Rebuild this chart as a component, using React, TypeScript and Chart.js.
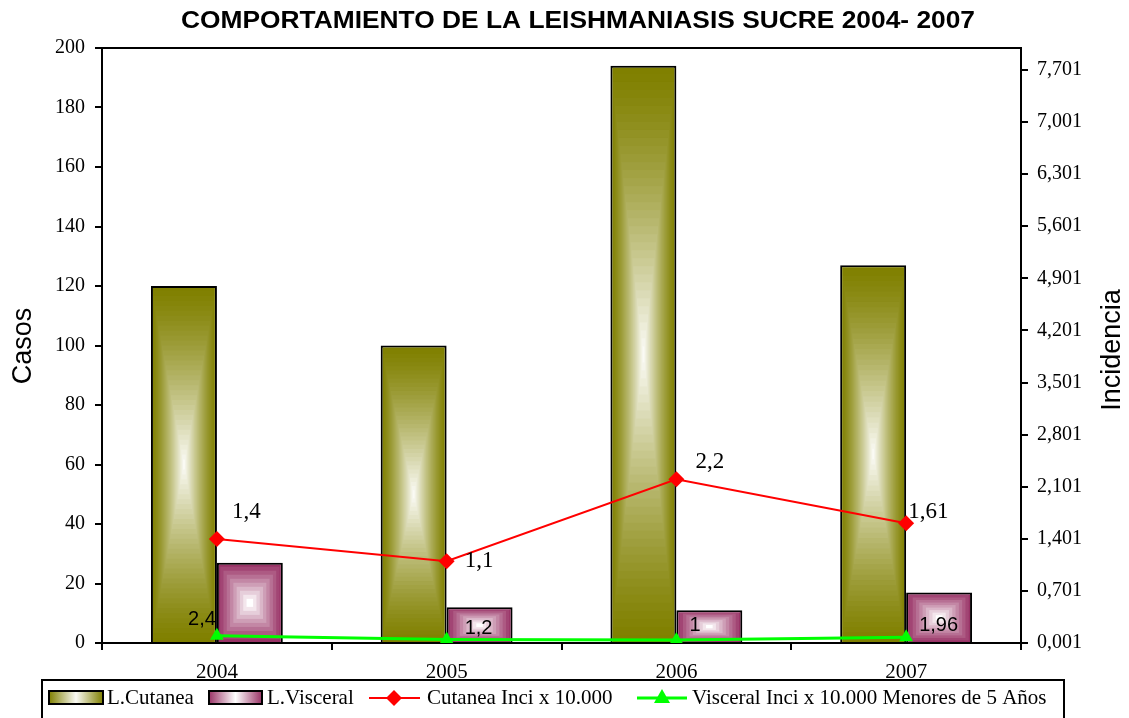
import React, { useEffect, useRef } from "react";
import { Chart, registerables } from "chart.js";

Chart.register(...registerables);

const categories = ["2004", "2005", "2006", "2007"];
const cutaneaCasos = [120, 100, 194, 127];
const visceralCasos = [27, 12, 11, 17];
const cutaneaInci = [1.4, 1.1, 2.2, 1.61];
const visceralInci = [2.4, 1.2, 1, 1.96];
const cutaneaInciLabels = ["1,4", "1,1", "2,2", "1,61"];
const visceralInciLabels = ["2,4", "1,2", "1", "1,96"];
const rightTicks = [0.001, 0.701, 1.401, 2.101, 2.801, 3.501, 4.201, 4.901, 5.601, 6.301, 7.001, 7.701];

const TITLE = "COMPORTAMIENTO DE LA LEISHMANIASIS SUCRE 2004- 2007";
const legendNames = ["L.Cutanea", "L.Visceral", "Cutanea Inci x 10.000", "Visceral Inci x 10.000 Menores de 5 Años"];

// styling / layout config (not data)
const CAT_PCT = 0.574;
const OLIVE: [number, number, number] = [128, 128, 0];
const OLIVE_C: [number, number, number] = [250, 250, 244];
const PLUM: [number, number, number] = [153, 51, 102];
const PLUM_C: [number, number, number] = [255, 255, 255];
const cutLabelOffsets: [number, number, CanvasTextAlign][] = [[15, -27, "left"], [18, 0, "left"], [19, -17, "left"], [2, -11, "left"]];
const visLabelOffsets: [number, number, CanvasTextAlign][] = [[-1, -16, "right"], [18, -11, "left"], [13, -15, "left"], [13, -12, "left"]];

const SERIF = "'Liberation Serif', 'Times New Roman', serif";
const SANS = "'Liberation Sans', Arial, sans-serif";

function mix(a: number[], b: number[], f: number) {
  const r = Math.round(a[0] + (b[0] - a[0]) * f);
  const g = Math.round(a[1] + (b[1] - a[1]) * f);
  const bb = Math.round(a[2] + (b[2] - a[2]) * f);
  return `rgb(${r},${g},${bb})`;
}

function boxPattern(chart: any, l: number, t: number, r: number, b: number, edge: number[], center: number[], steps: number, pw: number) {
  const c = document.createElement("canvas");
  c.width = chart.width;
  c.height = chart.height;
  const g = c.getContext("2d")!;
  const w = r - l;
  const h = b - t;
  for (let k = 0; k < steps; k++) {
    const f = k / steps;
    const cf = Math.pow(k / (steps - 1), pw);
    g.fillStyle = mix(edge, center, cf);
    g.fillRect(l + (f * w) / 2, t + (f * h) / 2, w * (1 - f), h * (1 - f));
  }
  return chart.ctx.createPattern(c, "no-repeat");
}

function barFill(barIdx: number, values: number[], edge: number[], center: number[], steps: number, pw: number) {
  return (ctx: any) => {
    const fallback = mix(edge, edge, 0);
    if (ctx.type !== "data") return fallback;
    const chart = ctx.chart;
    const xs = chart.scales.x;
    const ys = chart.scales.y;
    if (!xs || !ys || !chart.chartArea) return fallback;
    const i = ctx.dataIndex;
    const cx = xs.getPixelForValue(i);
    const catW = xs.width / categories.length;
    const bw = (catW * CAT_PCT) / 2;
    const left = barIdx === 0 ? cx - bw : cx;
    const right = left + bw;
    const top = ys.getPixelForValue(values[i]);
    const base = ys.getPixelForValue(0);
    return boxPattern(chart, left, top, right, base, edge, center, steps, pw) || fallback;
  };
}

function drawDiamond(ctx: CanvasRenderingContext2D, x: number, y: number, r: number) {
  ctx.beginPath();
  ctx.moveTo(x, y - r);
  ctx.lineTo(x + r, y);
  ctx.lineTo(x, y + r);
  ctx.lineTo(x - r, y);
  ctx.closePath();
  ctx.fill();
}

function drawTriangle(ctx: CanvasRenderingContext2D, x: number, y: number, r: number) {
  ctx.beginPath();
  ctx.moveTo(x, y - r);
  ctx.lineTo(x + r, y + r * 0.75);
  ctx.lineTo(x - r, y + r * 0.75);
  ctx.closePath();
  ctx.fill();
}

const decorPlugin = {
  id: "decor",
  afterDraw(chart: any) {
    const ctx: CanvasRenderingContext2D = chart.ctx;
    const ca = chart.chartArea;
    ctx.save();
    // top border of plot area
    ctx.strokeStyle = "#000";
    ctx.lineWidth = 2;
    ctx.beginPath();
    ctx.moveTo(ca.left, ca.top);
    ctx.lineTo(ca.right, ca.top);
    ctx.stroke();

    // data labels
    const lineSets = [
      { ds: 2, labels: cutaneaInciLabels, offs: cutLabelOffsets, font: `23px ${SERIF}` },
      { ds: 3, labels: visceralInciLabels, offs: visLabelOffsets, font: `20px ${SANS}` },
    ];
    ctx.fillStyle = "#000";
    ctx.textBaseline = "middle";
    for (const s of lineSets) {
      const meta = chart.getDatasetMeta(s.ds);
      ctx.font = s.font;
      meta.data.forEach((pt: any, i: number) => {
        const [dx, dy, al] = s.offs[i];
        ctx.textAlign = al;
        ctx.fillText(s.labels[i], pt.x + dx, pt.y + dy);
      });
    }

    // title (stretched horizontally like the original)
    ctx.font = `bold 23px ${SANS}`;
    ctx.textAlign = "center";
    ctx.textBaseline = "middle";
    const tw = ctx.measureText(TITLE).width;
    ctx.save();
    ctx.translate(578, 22);
    ctx.scale(794 / tw, 1);
    ctx.fillText(TITLE, 0, 0);
    ctx.restore();

    // axis titles
    ctx.font = `27px ${SANS}`;
    ctx.save();
    ctx.translate(24, 346);
    ctx.rotate(-Math.PI / 2);
    ctx.fillText("Casos", 0, 0);
    ctx.restore();
    ctx.save();
    ctx.translate(1113, 350);
    ctx.rotate(-Math.PI / 2);
    ctx.fillText("Incidencia", 0, 0);
    ctx.restore();

    // legend
    ctx.fillStyle = "#fff";
    ctx.fillRect(42, 680, 1022, 40);
    ctx.strokeStyle = "#000";
    ctx.lineWidth = 2;
    ctx.strokeRect(42, 680, 1022, 40);

    const swatch = (x0: number, x1: number, edge: number[], center: number[]) => {
      const g = ctx.createLinearGradient(x0, 0, x1, 0);
      g.addColorStop(0, mix(edge, edge, 0));
      g.addColorStop(0.5, mix(edge, center, 1));
      g.addColorStop(1, mix(edge, edge, 0));
      ctx.fillStyle = g;
      ctx.fillRect(x0, 691, x1 - x0, 13);
      ctx.strokeStyle = "#000";
      ctx.lineWidth = 2;
      ctx.strokeRect(x0, 691, x1 - x0, 13);
    };
    swatch(49, 103, OLIVE, OLIVE_C);
    swatch(209, 262, PLUM, PLUM_C);

    ctx.strokeStyle = "#ff0000";
    ctx.lineWidth = 2;
    ctx.beginPath();
    ctx.moveTo(369, 698);
    ctx.lineTo(420, 698);
    ctx.stroke();
    ctx.fillStyle = "#ff0000";
    drawDiamond(ctx, 394, 698, 8);

    ctx.strokeStyle = "#00ff00";
    ctx.lineWidth = 3;
    ctx.beginPath();
    ctx.moveTo(637, 698);
    ctx.lineTo(687, 698);
    ctx.stroke();
    ctx.fillStyle = "#00ff00";
    drawTriangle(ctx, 662, 697, 8);

    ctx.fillStyle = "#000";
    ctx.font = `21px ${SERIF}`;
    ctx.textAlign = "left";
    ctx.textBaseline = "middle";
    ctx.fillText(legendNames[0], 107, 698);
    ctx.fillText(legendNames[1], 267, 698);
    ctx.fillText(legendNames[2], 427, 698);
    ctx.fillText(legendNames[3], 692, 698);

    ctx.restore();
  },
};

export default function App() {
  const ref = useRef<HTMLCanvasElement | null>(null);
  useEffect(() => {
    if (!ref.current) return;
    const tickFont = { family: SERIF, size: 20 };
    const chart = new Chart(ref.current, {
      type: "bar",
      data: {
        labels: categories,
        datasets: [
          {
            type: "bar",
            label: legendNames[0],
            data: cutaneaCasos,
            yAxisID: "y",
            backgroundColor: barFill(0, cutaneaCasos, OLIVE, OLIVE_C, 36, 1.3) as any,
            borderColor: "#000",
            borderWidth: 2,
            categoryPercentage: CAT_PCT,
            barPercentage: 1,
            order: 2,
          },
          {
            type: "bar",
            label: legendNames[1],
            data: visceralCasos,
            yAxisID: "y",
            backgroundColor: barFill(1, visceralCasos, PLUM, PLUM_C, 10, 1.1) as any,
            borderColor: "#000",
            borderWidth: 2,
            categoryPercentage: CAT_PCT,
            barPercentage: 1,
            order: 2,
          },
          {
            type: "line",
            label: legendNames[2],
            data: cutaneaInci,
            yAxisID: "y1",
            borderColor: "#ff0000",
            backgroundColor: "#ff0000",
            borderWidth: 2,
            pointStyle: "rectRot",
            pointRadius: 8,
            pointBorderWidth: 0,
            tension: 0,
            order: 1,
          },
          {
            type: "line",
            label: legendNames[3],
            data: visceralInci,
            yAxisID: "y",
            borderColor: "#00ff00",
            backgroundColor: "#00ff00",
            borderWidth: 3,
            pointStyle: "triangle",
            pointRadius: 8,
            pointBorderWidth: 0,
            tension: 0,
            order: 0,
          },
        ],
      },
      options: {
        animation: false,
        responsive: true,
        maintainAspectRatio: false,
        layout: { padding: { top: 48, left: 0, right: 0, bottom: 0 } },
        plugins: {
          legend: { display: false },
          title: { display: false },
          tooltip: { enabled: false },
        },
        scales: {
          x: {
            type: "category",
            offset: true,
            afterFit: (s: any) => {
              s.height = 75;
            },
            grid: { drawOnChartArea: false, offset: true, tickLength: 7, color: "#000", lineWidth: 2 },
            border: { display: true, color: "#000", width: 2 },
            ticks: { font: { family: SERIF, size: 21 }, color: "#000", padding: 10, maxRotation: 0 },
          },
          y: {
            type: "linear",
            position: "left",
            min: 0,
            max: 200,
            afterFit: (s: any) => {
              s.width = 102;
            },
            grid: { drawOnChartArea: false, tickLength: 7, color: "#000", lineWidth: 2 },
            border: { display: true, color: "#000", width: 2 },
            ticks: { stepSize: 20, font: tickFont, color: "#000", padding: 10 },
          },
          y1: {
            type: "linear",
            position: "right",
            min: 0.001,
            max: 7.996,
            afterFit: (s: any) => {
              s.width = 108;
            },
            afterBuildTicks: (s: any) => {
              s.ticks = rightTicks.map((v) => ({ value: v }));
            },
            grid: { drawOnChartArea: false, tickLength: 7, color: "#000", lineWidth: 2 },
            border: { display: true, color: "#000", width: 2 },
            ticks: {
              font: tickFont,
              color: "#000",
              padding: 9,
              callback: (v: any) => Number(v).toFixed(3).replace(".", ","),
            },
          },
        },
      },
      plugins: [decorPlugin],
    });
    return () => chart.destroy();
  }, []);
  return (
    <div style={{ position: "fixed", left: 0, top: 0, width: 1129, height: 718, background: "#fff" }}>
      <canvas ref={ref} />
    </div>
  );
}
